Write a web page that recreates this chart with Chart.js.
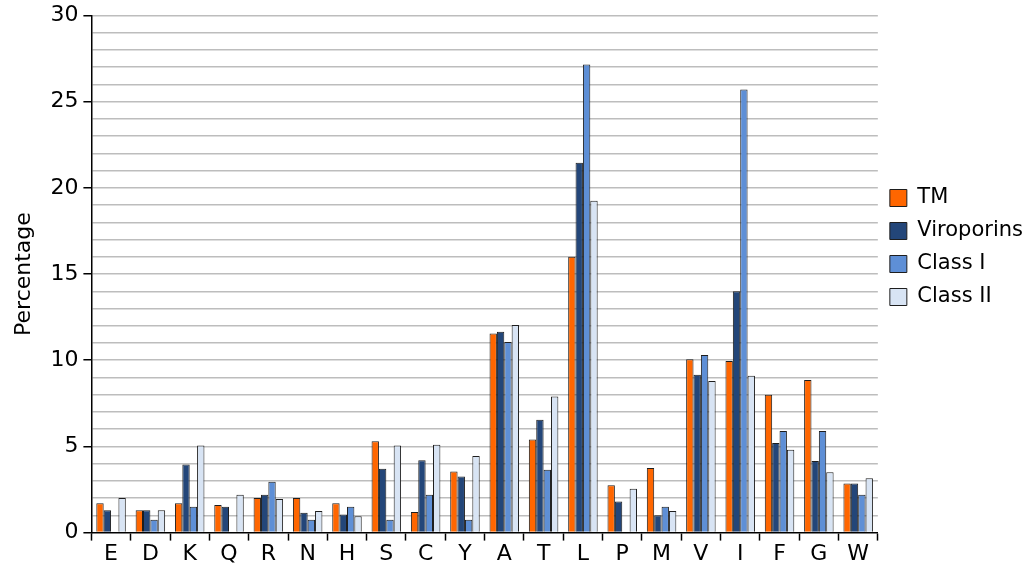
<!DOCTYPE html>
<html>
<head>
<meta charset="utf-8">
<script src="https://cdn.jsdelivr.net/npm/chart.js@4/dist/chart.umd.min.js"></script>
<style>
  body { margin: 0; background: #fff; }
  #wrap { width: 1024px; height: 569px; }
</style>
</head>
<body>
<div id="wrap"><canvas id="aaChart" width="1024" height="569"></canvas></div>
<script>
// amino acids on the x axis
var residues = ['E','D','K','Q','R','N','H','S','C','Y','A','T','L','P','M','V','I','F','G','W'];

// percentages
var tm         = [1.7, 1.3, 1.7, 1.6, 2.0, 2.0, 1.7, 5.3, 1.2, 3.55, 11.55, 5.4, 16.0, 2.75, 3.75, 10.05, 9.95, 8.0, 8.85, 2.85];
var viroporins = [1.3, 1.3, 3.95, 1.5, 2.2, 1.15, 1.05, 3.7, 4.2, 3.25, 11.65, 6.55, 21.45, 1.8, 1.0, 9.15, 14.0, 5.2, 4.15, 2.85];
var classI     = [0, 0.75, 1.5, 0, 2.95, 0.75, 1.5, 0.75, 2.2, 0.75, 11.05, 3.65, 27.15, 0, 1.5, 10.3, 25.7, 5.9, 5.9, 2.2];
var classII    = [2.0, 1.3, 5.05, 2.2, 1.95, 1.25, 0.95, 5.05, 5.1, 4.45, 12.05, 7.9, 19.25, 2.55, 1.25, 8.8, 9.1, 4.8, 3.5, 3.15];

var seriesNames = ['TM', 'Viroporins', 'Class I', 'Class II'];

var font = "'DejaVu Sans', sans-serif";
var outline = '#1e1e1e';

// the legend in the figure sits a bit above the vertical middle
var legendLift = {
    id: 'legendLift',
    afterLayout: function(chart) {
        var lg = chart.legend;
        if (lg) { lg.top -= 36; lg.bottom -= 36; }
    }
};

var ctx = document.getElementById('aaChart').getContext('2d');
var aaChart = new Chart(ctx, {
    type: 'bar',
    data: {
        labels: residues,
        datasets: [
            { label: seriesNames[0], data: tm,         backgroundColor: '#ff6600', borderColor: outline, borderWidth: 1 },
            { label: seriesNames[1], data: viroporins, backgroundColor: '#234679', borderColor: outline, borderWidth: 1 },
            { label: seriesNames[2], data: classI,     backgroundColor: '#5e8fd6', borderColor: outline, borderWidth: 1 },
            { label: seriesNames[3], data: classII,    backgroundColor: '#d8e4f4', borderColor: outline, borderWidth: 1 }
        ]
    },
    options: {
        responsive: false,
        animation: false,
        // legend padding runs past the right edge, like the original
        layout: { padding: { top: 0, left: 11, right: -9, bottom: 2 } },
        datasets: {
            bar: { categoryPercentage: 0.75, barPercentage: 1.0 }
        },
        plugins: {
            tooltip: { enabled: false },
            legend: {
                position: 'right',
                labels: {
                    color: '#000',
                    font: { family: font, size: 21 },
                    boxWidth: 17,
                    boxHeight: 17,
                    padding: 12
                }
            }
        },
        scales: {
            x: {
                grid: {
                    offset: true,
                    drawOnChartArea: false,
                    drawTicks: true,
                    tickLength: 8,
                    tickColor: '#000',
                    tickWidth: 1.5
                },
                border: { color: '#000', width: 1.5 },
                ticks: { color: '#000', font: { family: font, size: 22 }, padding: 0 }
            },
            y: {
                min: 0,
                max: 30,
                title: {
                    display: true,
                    text: 'Percentage',
                    color: '#000',
                    font: { family: font, size: 22 },
                    padding: { top: 0, bottom: 8 }
                },
                grid: {
                    color: function(c) { return c.tick && c.tick.value === 0 ? 'rgba(0,0,0,0)' : '#bdbdbd'; },
                    lineWidth: 1.5,
                    tickLength: 8,
                    tickWidth: 1.5,
                    tickColor: function(c) { return c.tick && c.tick.value % 5 === 0 ? '#000' : 'rgba(0,0,0,0)'; }
                },
                border: { color: '#000', width: 1.5 },
                ticks: {
                    stepSize: 1,
                    autoSkip: false,
                    color: '#000',
                    padding: 5,
                    font: { family: font, size: 22, lineHeight: 0.95 },
                    callback: function(v) { return v % 5 === 0 ? v : ''; }
                }
            }
        }
    },
    plugins: [legendLift]
});
</script>
</body>
</html>
